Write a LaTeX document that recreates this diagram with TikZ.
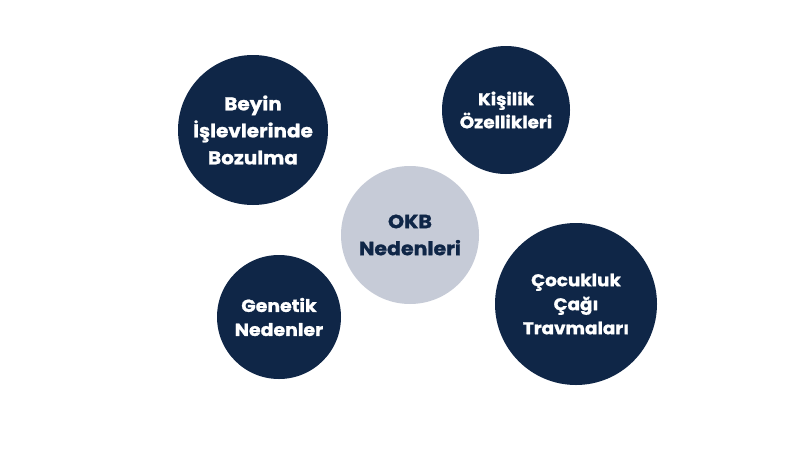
\documentclass[tikz,border=0pt]{standalone}
\usepackage{fontspec}
\setmainfont{Poppins}[BoldFeatures={FakeBold=1.2,FakeStretch=1.08}]
\definecolor{navy}{HTML}{0F2647}
\definecolor{lightc}{HTML}{C6CBD7}
\begin{document}
\begin{tikzpicture}[x=1pt,y=-1pt,
  bubble/.style={circle,fill=navy,text=white,font=\bfseries,align=center,inner sep=0pt},
  center/.style={circle,fill=lightc,text=navy,font=\bfseries,align=center,inner sep=0pt}]
\useasboundingbox[fill=white] (0,0) rectangle (800,450);
\node[bubble,minimum size=150pt,font=\bfseries\fontsize{18.5}{27}\selectfont] (beyin) at (253,130) {Beyin\\İşlevlerinde\\Bozulma};
\node[bubble,minimum size=128pt,font=\bfseries\fontsize{17}{23}\selectfont] (kisilik) at (506,110) {Kişilik\\Özellikleri};
\node[center,minimum size=138pt,font=\bfseries\fontsize{19}{27}\selectfont] (okb) at (410,235) {OKB\\Nedenleri};
\node[bubble,minimum size=124pt,font=\bfseries\fontsize{17.5}{24}\selectfont] (genetik) at (279,317) {Genetik\\Nedenler};
\node[bubble,minimum size=162pt,font=\bfseries\fontsize{17}{24}\selectfont] (cocuk) at (576,304) {Çocukluk\\Çağı\\Travmaları};
\end{tikzpicture}
\end{document}
